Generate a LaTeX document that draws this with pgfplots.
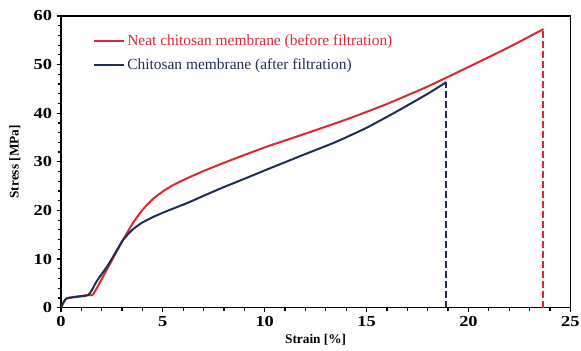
\documentclass[border=0pt]{standalone}
\usepackage{pgfplots}
\pgfplotsset{compat=1.18}
\usepackage{fontspec}
\setmainfont{Liberation Serif}
\newfontfamily\tickfont[FakeStretch=1.2]{Liberation Serif}
\definecolor{cred}{RGB}{219,40,50}
\definecolor{cnavy}{RGB}{31,45,84}
\begin{document}
\begin{tikzpicture}
\begin{axis}[
  scale only axis,
  width=382.5pt, height=219pt,
  xmin=0, xmax=25, ymin=0, ymax=60,
  xtick={0,5,10,15,20,25}, ytick={0,10,20,30,40,50,60},
  minor x tick num=4, minor y tick num=4,
  tick align=outside,
  xtick pos=bottom, ytick pos=left,
  major tick length=3.2pt, minor tick length=2.2pt,
  every tick/.style={black, line width=0.9pt},
  axis line style={black, line width=1.1pt},
  /pgf/number format/assume math mode=true,
  ticklabel style={font=\fontsize{11.5}{13}\tickfont\bfseries},
  xticklabel style={inner xsep=0pt},
  label style={font=\fontsize{10}{12}\selectfont\bfseries},
  xlabel={Strain [\%]},
  ylabel={Stress [MPa]},
  xlabel style={yshift=1pt},
  ylabel style={yshift=3pt},
  legend style={draw=none, fill=none, at={(0.063,0.945)}, anchor=north west,
    font=\fontsize{11.6}{13}\selectfont, inner sep=0pt, row sep=4pt,
    cells={anchor=west}},
  legend image code/.code={\draw[#1] (0pt,0pt) -- (22pt,0pt);},
]
\addplot[cred, line width=1.5pt, smooth, tension=0.3] coordinates {
(0,0) (0.28,1.9) (1.34,2.6) (1.58,2.7) (2.16,7.1) (2.6,10.5) (3.06,14.0)
(3.5,17.2) (4.0,20.1) (4.5,22.3) (5.0,23.9) (5.5,25.2) (6.24,26.7)
(7.0,28.1) (7.88,29.6) (9.0,31.4) (10.16,33.2) (12.0,35.8) (14.0,38.7)
(16.0,41.9) (18.0,45.5) (20.0,49.5) (22.0,53.6) (23.68,57.3)};
\addlegendentry{\textcolor{cred}{Neat chitosan membrane (before filtration)}}
\addplot[cnavy, line width=1.5pt, smooth, tension=0.3] coordinates {
(0,0) (0.28,1.9) (1.34,2.6) (1.75,5.4) (2.32,8.8) (2.7,11.5) (3.06,14.0)
(3.5,16.0) (3.95,17.4) (4.5,18.6) (5.1,19.7) (6.24,21.6) (7.0,23.0)
(7.88,24.6) (9.0,26.5) (10.16,28.5) (12.0,31.6) (13.5,34.1) (15.0,37.0)
(16.5,40.4) (18.0,44.0) (18.92,46.4)};
\addlegendentry{\textcolor{cnavy}{Chitosan membrane (after filtration)}}
\addplot[cred, line width=1.5pt, dash pattern=on 5pt off 2.5pt, forget plot] coordinates {(23.68,0) (23.68,57.3)};
\addplot[cnavy, line width=1.5pt, dash pattern=on 5pt off 2.5pt, forget plot] coordinates {(18.92,0) (18.92,46.4)};
\end{axis}
\path ([shift={(-45.75pt,-30.75pt)}]current axis.south west) rectangle ([shift={(8pt,12pt)}]current axis.north east);
\end{tikzpicture}
\end{document}
